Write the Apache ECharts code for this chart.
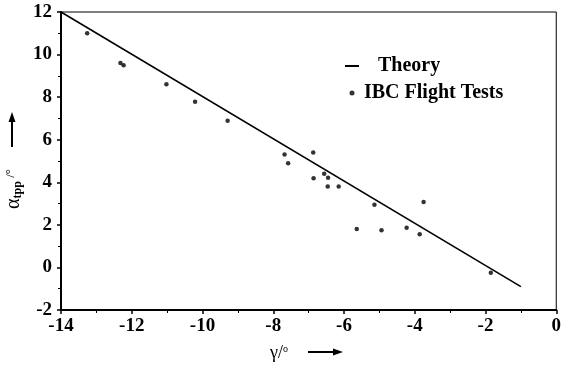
<!DOCTYPE html>
<html><head><meta charset="utf-8">
<script src="https://cdn.jsdelivr.net/npm/echarts@6/dist/echarts.min.js"></script>
<style>html,body{margin:0;padding:0;background:#fff}#c{width:564px;height:367px}</style>
</head><body><div id="c"></div>
<script>
const theoryX = [-14, -1];
const theoryY = [12, -0.9];
const testX = [-13.26, -12.32, -12.23, -11.02, -10.21, -9.29, -7.68, -7.58, -6.87, -6.86, -6.56, -6.45, -6.46, -6.15, -5.64, -5.14, -4.94, -4.23, -3.86, -3.75, -1.85];
const testY = [11.0, 9.6, 9.5, 8.6, 7.78, 6.89, 5.3, 4.9, 5.4, 4.19, 4.4, 4.21, 3.8, 3.8, 1.8, 2.95, 1.75, 1.86, 1.56, 3.07, -0.25];
const seriesNames = ['Theory', 'IBC Flight Tests'];

const serif = 'Liberation Serif';
const chart = echarts.init(document.getElementById('c'));
const axisCommon = {
  axisLine: {show: true, onZero: false, lineStyle: {color: '#000', width: 2}},
  axisTick: {show: true, inside: false, length: 4, lineStyle: {color: '#000', width: 1.5}},
  minorTick: {show: true, splitNumber: 2, length: 3, lineStyle: {color: '#000', width: 1}},
  splitLine: {show: false},
  axisLabel: {color: '#000', fontFamily: serif, fontWeight: 'bold', fontSize: 19}
};
chart.setOption({
  animation: false,
  backgroundColor: '#fff',
  grid: {left: 61, right: 6, top: 12, bottom: 57, show: true, borderColor: '#000', borderWidth: 1},
  xAxis: Object.assign({}, axisCommon, {type: 'value', min: -14, max: 0, interval: 2,
    axisLabel: Object.assign({}, axisCommon.axisLabel, {margin: 7})}),
  yAxis: Object.assign({}, axisCommon, {type: 'value', min: -2, max: 12, interval: 2,
    axisLabel: Object.assign({}, axisCommon.axisLabel, {margin: 9})}),
  legend: {
    orient: 'vertical', left: 339, top: 51, itemWidth: 14, itemHeight: 5, itemGap: 7,
    textStyle: {color: '#000', fontFamily: serif, fontWeight: 'bold', fontSize: 20},
    data: [
      {name: seriesNames[0], itemStyle: {opacity: 0}, textStyle: {padding: [0, 0, 0, 14]}},
      {name: seriesNames[1]}
    ]
  },
  series: [
    {name: seriesNames[0], type: 'line', data: theoryX.map((x, i) => [x, theoryY[i]]),
     showSymbol: false, symbol: 'none', lineStyle: {color: '#000', width: 1.6}, itemStyle: {color: '#000'}},
    {name: seriesNames[1], type: 'scatter', data: testX.map((x, i) => [x, testY[i]]),
     symbol: 'circle', symbolSize: 4.5, itemStyle: {color: '#000'}}
  ],
  graphic: [
    {type: 'text', x: 14, y: 189, rotation: Math.PI / 2,
     style: {text: '{a|α}{b|tpp}{c| /°}', align: 'center', verticalAlign: 'middle', fill: '#000',
       rich: {
         a: {fontFamily: serif, fontSize: 20, fill: '#000'},
         b: {fontFamily: serif, fontSize: 12, fontWeight: 'bold', fill: '#000', verticalAlign: 'bottom', padding: [8, 0, 0, 0]},
         c: {fontFamily: serif, fontSize: 13, fill: '#000', verticalAlign: 'top'}
       }}},
    {type: 'line', shape: {x1: 12, y1: 147, x2: 12, y2: 118}, style: {stroke: '#000', lineWidth: 2}},
    {type: 'polygon', shape: {points: [[12, 112], [8.5, 122], [15.5, 122]]}, style: {fill: '#000'}},
    {type: 'text', x: 279, y: 353,
     style: {text: '{a|γ/}{c|o}', align: 'center', verticalAlign: 'middle', fill: '#000',
       rich: {
         a: {fontFamily: serif, fontSize: 18, fill: '#000'},
         c: {fontFamily: serif, fontSize: 10, fill: '#000', verticalAlign: 'top'}
       }}},
    {type: 'line', shape: {x1: 308, y1: 352, x2: 335, y2: 352}, style: {stroke: '#000', lineWidth: 2}},
    {type: 'polygon', shape: {points: [[343, 352], [333, 348.5], [333, 355.5]]}, style: {fill: '#000'}}
  ]
});
</script></body></html>
